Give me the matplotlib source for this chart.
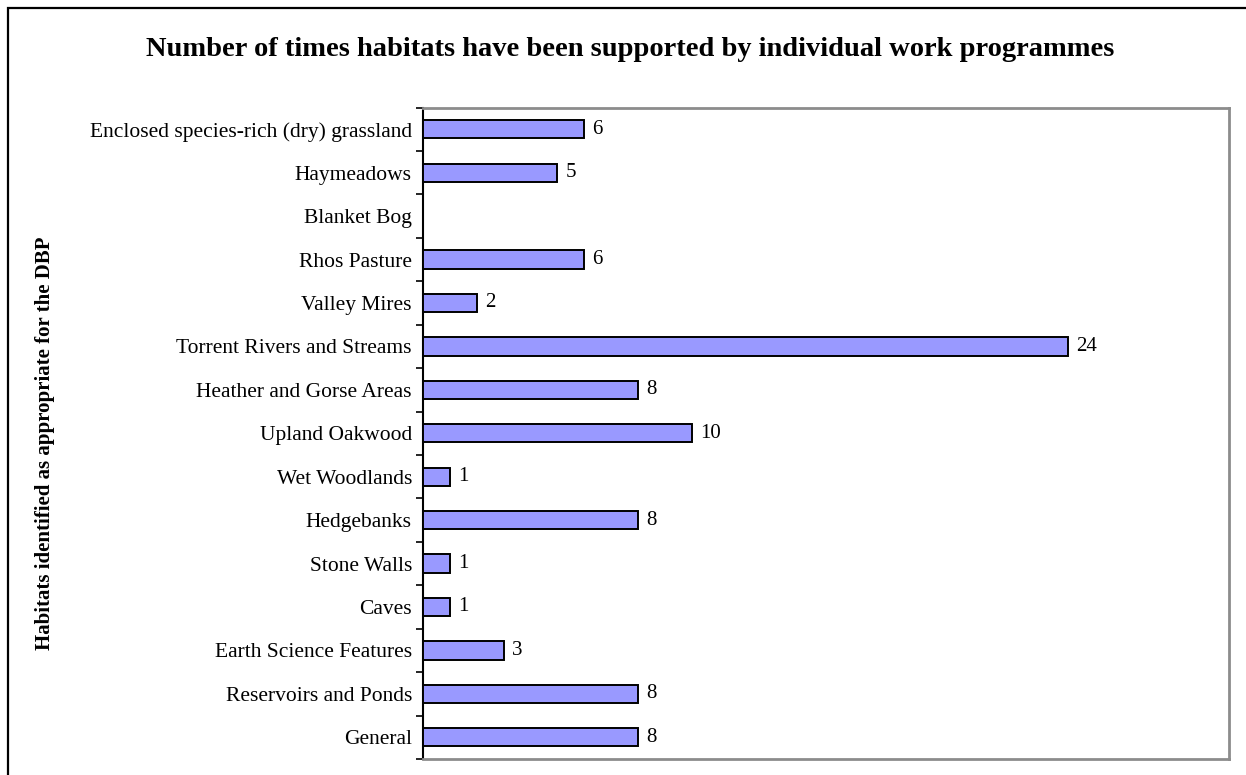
import matplotlib
matplotlib.use("Agg")
import matplotlib.pyplot as plt
from matplotlib.patches import Rectangle

habitats = [
    "Enclosed species-rich (dry) grassland",
    "Haymeadows",
    "Blanket Bog",
    "Rhos Pasture",
    "Valley Mires",
    "Torrent Rivers and Streams",
    "Heather and Gorse Areas",
    "Upland Oakwood",
    "Wet Woodlands",
    "Hedgebanks",
    "Stone Walls",
    "Caves",
    "Earth Science Features",
    "Reservoirs and Ponds",
    "General",
]
counts = [6, 5, 0, 6, 2, 24, 8, 10, 1, 8, 1, 1, 3, 8, 8]

title = "Number of times habitats have been supported by individual work programmes"
ylabel = "Habitats identified as appropriate for the DBP"

plt.rcParams["font.family"] = ["Liberation Serif", "DejaVu Serif"]

W, H = 1246, 775
fig = plt.figure(figsize=(W / 100, H / 100), dpi=100)
fig.patch.set_facecolor("white")

# outer chart frame (left and top edges visible)
fig.patches.append(Rectangle((8 / W, -0.05), 1.1, 1 - 8 / H + 0.05,
                             transform=fig.transFigure, fill=False,
                             edgecolor="black", linewidth=1.6, zorder=0))

ax = fig.add_axes([423 / W, 1 - 759 / H, (1229 - 423) / W, (759 - 107.5) / H])

n = len(habitats)
ypos = list(range(n))
ax.barh(ypos, counts, height=0.42, color="#9999FF", edgecolor="black",
        linewidth=1.4, zorder=3)

for y, v in zip(ypos, counts):
    if v > 0:
        ax.text(v + 0.3, y, str(v), va="center", ha="left", fontsize=15)

ax.set_xlim(0, 30)
ax.set_ylim(n - 0.5, -0.5)
ax.set_xticks([])
ax.set_yticks(ypos)
ax.set_yticklabels(habitats, fontsize=15.5)
ax.tick_params(axis="y", which="major", length=0, pad=8)
ax.set_yticks([i - 0.5 for i in range(n + 1)], minor=True)
ax.tick_params(axis="y", which="minor", length=5, width=1.2, color="black")

for side in ("top", "right", "bottom"):
    ax.spines[side].set_color("#8c8c8c")
    ax.spines[side].set_linewidth(2)
ax.spines["left"].set_color("black")
ax.spines["left"].set_linewidth(1.5)

fig.text(630 / W, 1 - 50 / H, title, ha="center", va="center",
         fontsize=20.5, fontweight="bold")
fig.text(45 / W, 1 - 443 / H, ylabel, ha="center", va="center",
         rotation=90, fontsize=15, fontweight="bold")

fig.savefig("out.png", dpi=100, facecolor="white")
